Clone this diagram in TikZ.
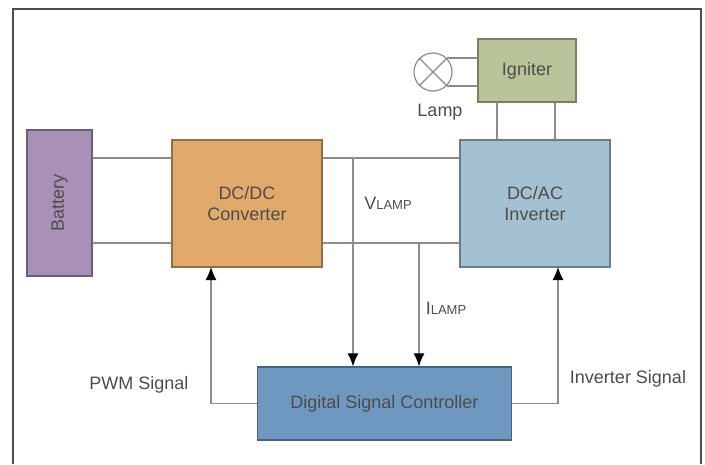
\documentclass[tikz,border=0pt]{standalone}
\usepackage{fontspec}
\setmainfont{Liberation Sans}
\usetikzlibrary{arrows.meta}
\definecolor{battfill}{HTML}{A890B6}
\definecolor{convfill}{HTML}{E2A96C}
\definecolor{invfill}{HTML}{A4C1D1}
\definecolor{ignfill}{HTML}{B9C49B}
\definecolor{dscfill}{HTML}{6F98C0}
\tikzset{
  block/.style={draw=#1!65!black,fill=#1,line width=1.2pt,inner sep=0pt,align=center,text=black!70,font=\fontsize{18}{21}\selectfont},
  wire/.style={draw=black!45,line width=1.3pt},
  sigwire/.style={wire,-{Latex[black,length=13pt,width=11pt]}},
  tag/.style={inner sep=0pt,text=black!70,font=\fontsize{18}{20}\selectfont},
}
\begin{document}
\begin{tikzpicture}[x=1pt,y=-1pt]
\def\wiretop{158}
\def\wirebot{243}
\newcommand{\lampsub}{{\fontsize{13}{14}\selectfont LAMP}}

\useasboundingbox (0,0) rectangle (705,464);
\draw[draw=black!70,line width=2pt] (13,464) -- (13,9) -- (701,9) -- (701,464);

\node[block=battfill,minimum width=65pt,minimum height=146pt] (batt) at (59.5,203) {};
\node[tag,rotate=90] (battlabel) at (batt.center) {Battery};
\node[block=convfill,minimum width=150pt,minimum height=127pt] (conv) at (247,203.5) {DC/DC\\Converter};
\node[block=invfill,minimum width=150pt,minimum height=127pt] (inv) at (535,203.5) {DC/AC\\Inverter};
\node[block=ignfill,minimum width=98pt,minimum height=63pt] (ign) at (527,70.5) {Igniter};
\node[block=dscfill,minimum width=254pt,minimum height=73pt] (dsc) at (384.5,403.5) {Digital Signal Controller};
\node[draw=black!45,line width=1.2pt,circle,minimum size=38pt,inner sep=0pt] (lamp) at (433,72) {};

\node[tag] (lamplabel) at (440,112) {Lamp};
\node[tag] (vlamp) at (388,203) {V\lampsub};
\node[tag] (ilamp) at (446,308) {I\lampsub};
\node[tag] (pwm) at (139,385) {PWM Signal};
\node[tag] (invsig) at (628,379) {Inverter Signal};

\coordinate (vtap) at (353,\wiretop);
\coordinate (itap) at (419,\wirebot);
\coordinate (pwmup) at (211,267);
\coordinate (invup) at (558,267);
\coordinate (ignl) at (497,102);
\coordinate (ignr) at (555,102);

\draw[wire] (batt.east |- vtap) -- (conv.west |- vtap);
\draw[wire] (batt.east |- itap) -- (conv.west |- itap);
\draw[wire] (conv.east |- vtap) -- (inv.west |- vtap);
\draw[wire] (conv.east |- itap) -- (inv.west |- itap);
\draw[wire] (ignl) -- (ignl |- inv.north);
\draw[wire] (ignr) -- (ignr |- inv.north);
\draw[wire] (lamp.45) -- (lamp.45 -| ign.west);
\draw[wire] (lamp.-45) -- (lamp.-45 -| ign.west);
\draw[wire] (lamp.45) -- (lamp.225);
\draw[wire] (lamp.135) -- (lamp.-45);

\draw[sigwire] (vtap) -- (vtap |- dsc.north);
\draw[sigwire] (itap) -- (itap |- dsc.north);
\draw[sigwire] (dsc.west) -| (pwmup);
\draw[sigwire] (dsc.east) -| (invup);
\end{tikzpicture}
\end{document}
